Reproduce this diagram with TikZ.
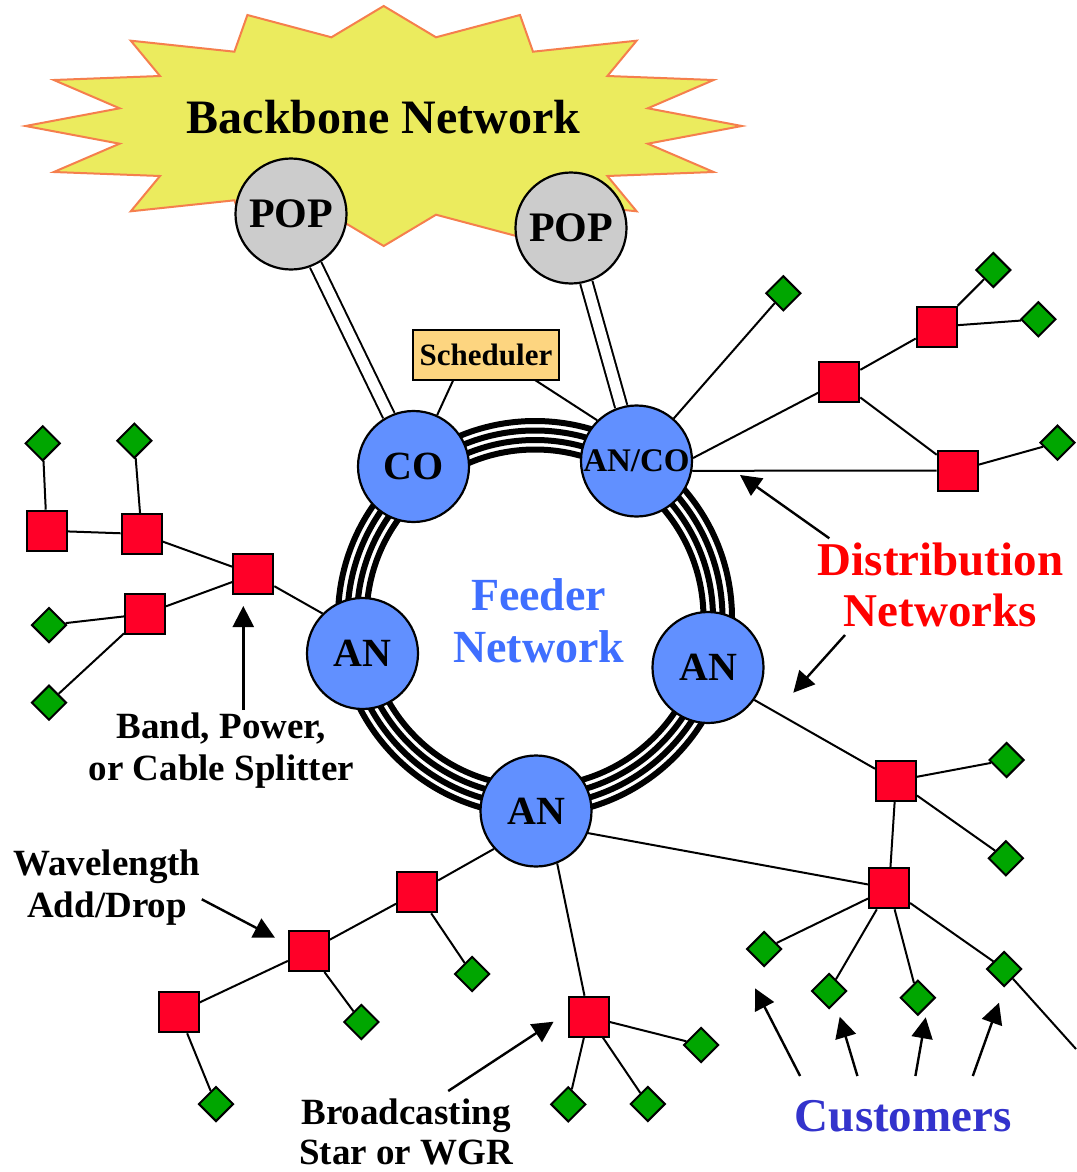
\documentclass[tikz,border=0pt]{standalone}
\usepackage{fontspec}
\setmainfont{Liberation Serif}
\usetikzlibrary{arrows.meta,shapes.geometric}
\definecolor{hubblue}{HTML}{6190FF}
\definecolor{popgray}{HTML}{CCCCCC}
\definecolor{splitred}{HTML}{FF0028}
\definecolor{custgreen}{HTML}{00A600}
\definecolor{starfill}{HTML}{EBEB5E}
\definecolor{starline}{HTML}{F57F4D}
\definecolor{schedfill}{HTML}{FDD580}
\definecolor{feederblue}{HTML}{3F6FFF}
\definecolor{custblue}{HTML}{3333CC}
\definecolor{distred}{HTML}{FF0000}
\newcommand\fsz[2]{\fontsize{#1}{#2}\selectfont}
\begin{document}
\begin{tikzpicture}[x=1pt,y=-1pt,
  hub/.style={circle,draw=black,line width=2.2pt,fill=hubblue,minimum size=111pt,inner sep=0pt,font=\bfseries\fsz{40}{40}},
  pop/.style={circle,draw=black,line width=2.2pt,fill=popgray,minimum size=111pt,inner sep=0pt,font=\bfseries\fsz{42}{42}},
  split/.style={rectangle,draw=black,line width=2pt,fill=splitred,minimum size=40pt,inner sep=0pt},
  cust/.style={diamond,draw=black,line width=2pt,fill=custgreen,minimum size=35pt,inner sep=0pt},
  link/.style={line width=2pt},
  trunk/.style={draw=black,line width=2pt,double=white,double distance=10.5pt},
  ringline/.style={line width=6pt},
  callout/.style={line width=2.4pt,-{Triangle[length=21pt,width=21pt]}},
  lbl/.style={font=\bfseries\fsz{37}{42},align=center,anchor=base}
]
\useasboundingbox (0,0) rectangle (1076,1172);
\fill[white] (0,0) rectangle (1076,1172);

% backbone starburst
\filldraw[fill=starfill,draw=starline,line width=2pt,line join=miter]
 (383.7,6) -- (436,37.3) -- (520,15) -- (533,51.7) -- (636.6,40.7) -- (607.4,76)
 -- (713.6,80) -- (647.8,108.3) -- (741.8,126) -- (647.8,143.7) -- (713.6,172)
 -- (607.4,176) -- (636.6,211.3) -- (533,200.3) -- (520,237) -- (436,214.7)
 -- (383.7,246) -- (331.4,214.7) -- (247.4,237) -- (234.4,200.3) -- (130.8,211.3)
 -- (160,176) -- (53.8,172) -- (119.6,143.7) -- (25.6,126) -- (119.6,108.3)
 -- (53.8,80) -- (160,76) -- (130.8,40.7) -- (234.4,51.7) -- (247.4,15)
 -- (331.4,37.3) -- cycle;
\node[font=\bfseries\fsz{48}{48},anchor=base] (backbone) at (383.5,133) {Backbone Network};

% feeder ring
\coordinate (ringc) at (535,618);
\foreach \r in {197,187.5,178,168.5}
  \draw[ringline] (ringc) circle[radius=\r];

\node[font=\bfseries\fsz{46}{52.7},text=feederblue,align=center,anchor=base] (feeder) at (538.7,662.7) {Feeder\\Network};

% main nodes
\node[pop] (pop1) at (291,214) {POP};
\node[pop] (pop2) at (571,228) {POP};
\node[hub] (co) at (413.5,466.5) {CO};
\node[hub,font=\bfseries\fsz{33}{33}] (ancon) at (636.5,461) {AN/CO};
\node[hub] (lan) at (362.5,653.5) {AN};
\node[hub] (ran) at (708,667.5) {AN};
\node[hub] (ban) at (536,811) {AN};
\node[draw=black,line width=1.5pt,fill=schedfill,minimum width=146pt,minimum height=50pt,inner sep=0pt,font=\bfseries\fsz{31}{31}] (sched) at (486,355) {Scheduler};

% trunks to backbone
\draw[trunk] (pop1) -- (co);
\draw[trunk] (pop2) -- (ancon);

% scheduler links
\coordinate (sch1) at (453.3,380);
\coordinate (sch2) at (535,380);
\draw[link] (sch1) -- (co);
\draw[link] (sch2) -- (ancon.134);

% distribution at AN/CO
\node[cust] (dA) at (783.3,293.3) {};
\node[split] (r1) at (839.3,381.7) {};
\node[split] (r2) at (936.7,326.7) {};
\node[cust] (dB) at (993.3,270) {};
\node[cust] (dC) at (1038.3,319.3) {};
\node[split] (r3) at (957.7,470.5) {};
\node[cust] (dD) at (1057.5,442.7) {};
\draw[link] (ancon) -- (dA);
\draw[link] (ancon.3) -- (r1);
\draw[link] (r1) -- (r2);
\draw[link] (r2) -- (dB);
\draw[link] (r2) -- (dC);
\draw[link] (r1) -- (r3);
\draw[link] (r3) -- (dD);
\draw[link] (ancon.-10) -- (r3.west);

% left distribution
\node[split] (l1) at (46.7,530.7) {};
\node[split] (l2) at (141.7,534) {};
\node[split] (l3) at (253.3,574.3) {};
\node[split] (l4) at (145,614) {};
\node[cust] (dl1) at (42.7,443.3) {};
\node[cust] (dl2) at (134.3,440.7) {};
\node[cust] (dl3) at (49,625) {};
\node[cust] (dl4) at (49,702.7) {};
\draw[link] (dl1) -- (l1);
\draw[link] (dl2) -- (l2);
\draw[link] (l1) -- (l2);
\draw[link] (l2) -- (l3);
\draw[link] (l3) -- (l4);
\draw[link] (l4) -- (dl3);
\draw[link] (l4) -- (dl4);
\draw[link] (l3) -- (lan.135);

% bottom-left distribution
\node[split] (b1) at (417.1,892.3) {};
\node[split] (b2) at (308.9,951) {};
\node[split] (b3) at (178.6,1012.3) {};
\node[cust] (db1) at (472.1,974) {};
\node[cust] (db2) at (361.4,1022) {};
\node[cust] (db3) at (216,1104) {};
\draw[link] (ban.-138) -- (b1);
\draw[link] (b1) -- (b2);
\draw[link] (b2) -- (b3);
\draw[link] (b1) -- (db1);
\draw[link] (b2) -- (db2);
\draw[link] (b3) -- (db3);

% bottom-right distribution
\node[split] (c1) at (896,780.7) {};
\node[split] (c2) at (889.1,888.3) {};
\node[split] (c3) at (588.8,1016.7) {};
\node[cust] (dc1) at (1006.5,760) {};
\node[cust] (dc2) at (1005.9,858.3) {};
\node[cust] (dc3) at (764.2,949) {};
\node[cust] (dc4) at (829.1,991) {};
\node[cust] (dc5) at (917.8,997.7) {};
\node[cust] (dc6) at (1004.2,969) {};
\node[cust] (dc7) at (701.1,1045) {};
\node[cust] (dc8) at (568.3,1104.3) {};
\node[cust] (dc9) at (647.8,1104) {};
\coordinate (offright) at (1076,1049);
\draw[link] (ran.-35) -- (c1);
\draw[link] (c1) -- (dc1);
\draw[link] (c1) -- (dc2);
\draw[link] (c1) -- (c2);
\draw[link] (ban.-23) -- (c2);
\draw[link] (c2) -- (dc3);
\draw[link] (c2) -- (dc4);
\draw[link] (c2) -- (dc5);
\draw[link] (c2) -- (dc6);
\draw[link] (dc6) -- (offright);
\draw[link] (ban.-68) -- (c3);
\draw[link] (c3) -- (dc7);
\draw[link] (c3) -- (dc8);
\draw[link] (c3) -- (dc9);

% labels (base anchor = baseline of last line)
\node[font=\bfseries\fsz{47}{51.7},text=distred,align=center,anchor=base] (distlbl) at (940.5,626.7) {Distribution\\Networks};
\node[font=\bfseries\fsz{47}{47},text=custblue,anchor=base] (custlbl) at (903.3,1131.7) {Customers};
\node[lbl] (splitlbl) at (221.3,780) {Band, Power,\\or Cable Splitter};
\node[lbl] (wavelbl) at (107,917) {Wavelength\\Add/Drop};
\node[lbl,font=\bfseries\fsz{37}{40}] (bcastlbl) at (406,1164) {Broadcasting\\Star or WGR};

% callout arrows
\coordinate (dt1) at (829.3,538.3);  \coordinate (dh1) at (740,475);
\coordinate (dt2) at (845,635);      \coordinate (dh2) at (793.3,692.7);
\coordinate (st) at (243.3,710);     \coordinate (sh) at (243.3,606);
\coordinate (wt) at (201.8,899.3);   \coordinate (wh) at (275,937.7);
\coordinate (bt) at (448.2,1091);    \coordinate (bh) at (553.6,1021.7);
\coordinate (ct1) at (800.1,1076);   \coordinate (ch1) at (755,988.3);
\coordinate (ct2) at (857.4,1076);   \coordinate (ch2) at (839.7,1016.7);
\coordinate (ct3) at (915.4,1076);   \coordinate (ch3) at (925.7,1017.3);
\coordinate (ct4) at (972.8,1076);   \coordinate (ch4) at (999,1002.7);
\draw[callout] (dt1) -- (dh1);
\draw[callout] (dt2) -- (dh2);
\draw[callout] (st) -- (sh);
\draw[callout] (wt) -- (wh);
\draw[callout] (bt) -- (bh);
\draw[callout] (ct1) -- (ch1);
\draw[callout] (ct2) -- (ch2);
\draw[callout] (ct3) -- (ch3);
\draw[callout] (ct4) -- (ch4);
\end{tikzpicture}
\end{document}
